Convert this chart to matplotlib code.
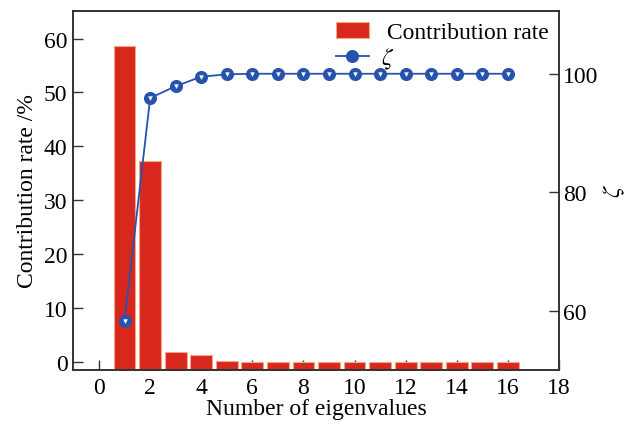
import matplotlib
matplotlib.use("Agg")
import matplotlib.pyplot as plt
import numpy as np
from matplotlib.lines import Line2D
from matplotlib.patches import Patch

plt.rcParams['font.family'] = ['Liberation Serif', 'DejaVu Serif']
plt.rcParams['mathtext.fontset'] = 'stix'

eigen_num = [1, 2, 3, 4, 5, 6, 7, 8, 9, 10, 11, 12, 13, 14, 15, 16]
contribution = [58.6, 37.3, 1.8, 1.3, 0.3, 0.1, 0.1, 0.1, 0.1, 0.1, 0.1, 0.1, 0.1, 0.1, 0.1, 0.1]
zeta = [58.3, 95.9, 97.9, 99.5, 99.9, 100.0, 100.0, 100.0, 100.0, 100.0, 100.0, 100.0, 100.0, 100.0, 100.0, 100.0]
xticks = [0, 2, 4, 6, 8, 10, 12, 14, 16, 18]
yticks_left = [0, 10, 20, 30, 40, 50, 60]
yticks_right = [60, 80, 100]

bar_color = '#d8281e'
edge_color = '#f4a585'
line_color = '#2553ad'
spine_color = '#333333'

fig = plt.figure(figsize=(6.27, 4.27), dpi=100)
ax = fig.add_axes([0.1164, 0.1318, 0.7751, 0.8401])
ax2 = ax.twinx()

ybot = -1.4
ax.set_ylim(ybot, 65.1)
ax.set_xlim(-1.02, 18.0)
vals = np.array(contribution)
ax.bar(eigen_num, vals - ybot, bottom=ybot, width=0.85, color=bar_color,
       edgecolor=edge_color, linewidth=0.8, zorder=2)

ax2.set_ylim(50.0, 110.6)
ax2.plot(eigen_num, zeta, '-', color=line_color, lw=1.3, marker='o', ms=8.4,
         mfc=line_color, mec=line_color, zorder=3)
ax2.plot(eigen_num, zeta, linestyle='none', marker='v', ms=2.8, mfc='white',
         mec='white', mew=0.3, zorder=4)

fs = 17
ax.set_xticks(xticks)
ax.set_yticks(yticks_left)
ax2.set_yticks(yticks_right)
ax.tick_params(axis='both', direction='in', length=7, width=1.0, color=spine_color,
               labelsize=fs, pad=4)
ax.tick_params(axis='x', pad=5)
ax2.tick_params(axis='y', direction='in', length=7, width=1.0, color=spine_color,
                labelsize=fs, pad=3)
for a in (ax, ax2):
    for s in a.spines.values():
        s.set_color(spine_color)
        s.set_linewidth(1.2)

ax.set_xlabel('Number of eigenvalues', fontsize=fs, labelpad=0)
ax.set_ylabel('Contribution rate /%', fontsize=fs, labelpad=4)
ax2.set_ylabel(r'$\zeta$', fontsize=18, labelpad=2)

handles = [Patch(facecolor=bar_color, edgecolor=edge_color, linewidth=0.8),
           Line2D([], [], color=line_color, lw=1.3, marker='o', ms=8.4,
                  mfc=line_color, mec=line_color)]
leg = ax.legend(handles, [' Contribution rate', r'$\zeta$'], loc='upper right',
                frameon=False, fontsize=fs, handlelength=1.4, handletextpad=0.5,
                labelspacing=0.1, borderaxespad=0.05, bbox_to_anchor=(1.0, 1.0))
leg.set_zorder(10)

fig.savefig('out.png', dpi=100)
